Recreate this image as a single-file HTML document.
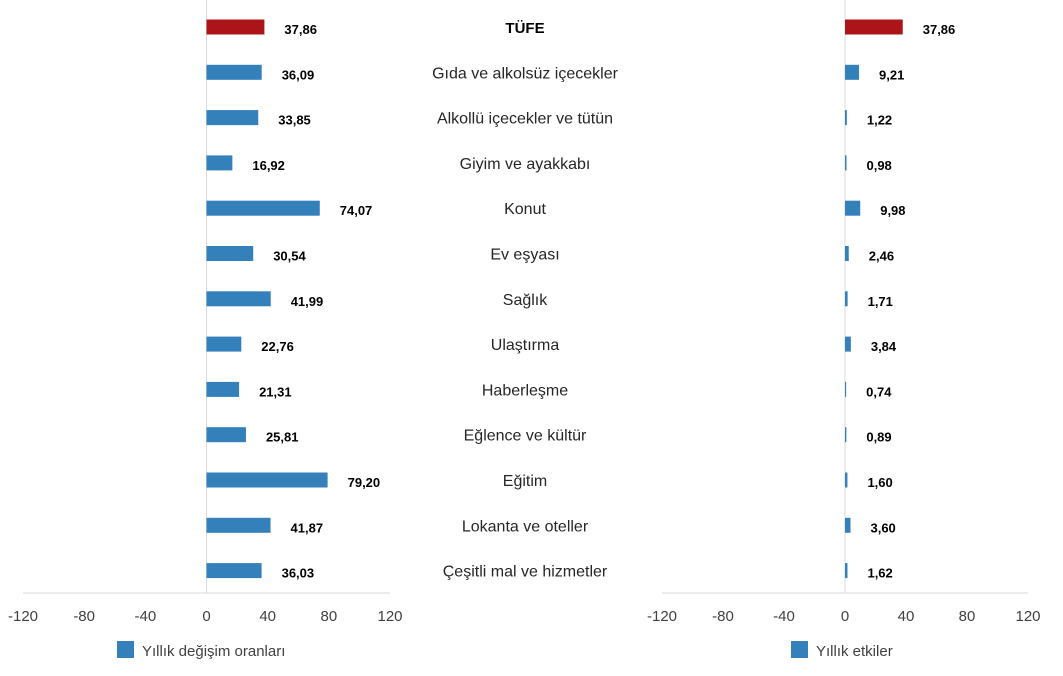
<!DOCTYPE html>
<html><head><meta charset="utf-8"><style>
body{margin:0;background:#fff;width:1063px;height:671px;overflow:hidden;font-family:"Liberation Sans",sans-serif}
</style></head><body>
<svg id="c" width="1063" height="671"></svg>
<script>
const categories=["TÜFE","Gıda ve alkolsüz içecekler","Alkollü içecekler ve tütün","Giyim ve ayakkabı","Konut","Ev eşyası","Sağlık","Ulaştırma","Haberleşme","Eğlence ve kültür","Eğitim","Lokanta ve oteller","Çeşitli mal ve hizmetler"];
const annualChange=[37.86,36.09,33.85,16.92,74.07,30.54,41.99,22.76,21.31,25.81,79.20,41.87,36.03];
const annualContribution=[37.86,9.21,1.22,0.98,9.98,2.46,1.71,3.84,0.74,0.89,1.60,3.60,1.62];
const ticks=[-120,-80,-40,0,40,80,120];
const NS="http://www.w3.org/2000/svg";
const svg=document.getElementById('c');
function mk(t,a,p){const e=document.createElementNS(NS,t);for(const k in a)e.setAttribute(k,a[k]);(p||svg).appendChild(e);return e;}
const rowY=i=>27+i*45.3;
function panel(x0,x1,vals,legend,lx,name){
  const g=mk('g',{});
  
  
  const sx=v=>x0+(v+120)/240*(x1-x0);
  const zl=mk('line',{x1:sx(0),x2:sx(0),y1:0,y2:593,stroke:'#d9d9d9','stroke-width':1},g);
  
  
  const ax=mk('line',{x1:x0,x2:x1,y1:593,y2:593,stroke:'#d9d9d9','stroke-width':1},g);
  
  
  ticks.forEach(t=>{
    const tx=mk('text',{x:sx(t),y:621,'text-anchor':'middle','font-size':15,fill:'#404040'},g);
    
    
    tx.textContent=t;
  });
  vals.forEach((v,i)=>{
    const y=rowY(i);
    const b=mk('rect',{x:sx(0),y:y-7.5,width:sx(v)-sx(0),height:15,fill:i==0?'#ab1519':'#3380bb'},g);
    
    
    const l=mk('text',{x:sx(v)+20,y:y+7,'font-size':13,'font-weight':'bold',fill:'#000'},g);
    
    
    l.textContent=v.toFixed(2).replace('.',',');
  });
  const ls=mk('rect',{x:lx,y:641,width:17,height:17,fill:'#3380bb'},g);
  
  
  const lt=mk('text',{x:lx+25,y:656,'font-size':15,fill:'#404040'},g);
  
  
  lt.textContent=legend;
}
panel(23,390,annualChange,"Yıllık değişim oranları",117,'annual-change-panel');
panel(662,1028,annualContribution,"Yıllık etkiler",791,'annual-contribution-panel');
categories.forEach((c,i)=>{
  const t=mk('text',{x:525,y:rowY(i)+6,'text-anchor':'middle','font-size':i==0?15:16,'font-weight':i==0?'bold':'normal',fill:i==0?'#000':'#262626'});
  
  
  t.textContent=c;
});
</script>
</body></html>
